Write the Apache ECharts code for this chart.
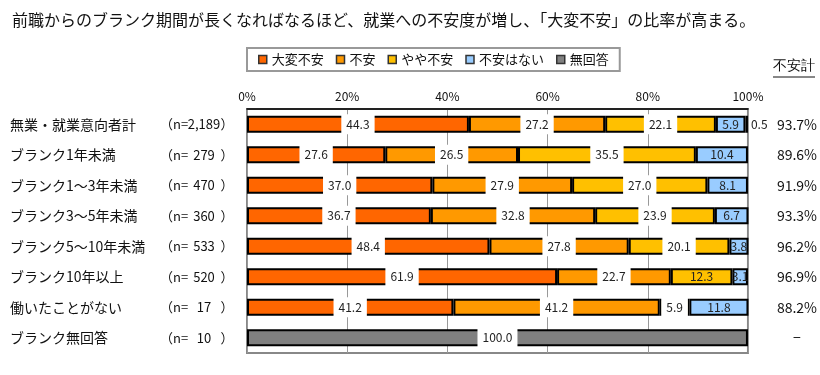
<!DOCTYPE html>
<html>
<head>
<meta charset="utf-8">
<script src="https://cdn.jsdelivr.net/npm/echarts@6/dist/echarts.min.js"></script>
<style>
  html, body { margin: 0; padding: 0; background: #fff; }
  #chart { width: 820px; height: 375px; }
</style>
</head>
<body>
<div id="chart"></div>
<script>
var categories = ['無業・就業意向者計', 'ブランク1年未満', 'ブランク1～3年未満', 'ブランク3～5年未満', 'ブランク5～10年未満', 'ブランク10年以上', '働いたことがない', 'ブランク無回答']
var nCounts = ['2,189', '279', '470', '360', '533', '520', '17', '10']
var totals = ['93.7%', '89.6%', '91.9%', '93.3%', '96.2%', '96.9%', '88.2%', '−']
var seriesNames = ['大変不安', '不安', 'やや不安', '不安はない', '無回答']
var taihenFuan = [44.3, 27.6, 37.0, 36.7, 48.4, 61.9, 41.2, 0]
var fuan = [27.2, 26.5, 27.9, 32.8, 27.8, 22.7, 41.2, 0]
var yayaFuan = [22.1, 35.5, 27.0, 23.9, 20.1, 12.3, 5.9, 0]
var fuanNashi = [5.9, 10.4, 8.1, 6.7, 3.8, 3.1, 11.8, 0]
var muKaito = [0.5, 0, 0, 0, 0, 0, 0, 100.0]
var xTicks = [0, 20, 40, 60, 80, 100]

var colors = ['#ff6600', '#ff9900', '#ffc000', '#99ccff', '#808080']
var FONT = '"Noto Sans CJK JP", "Noto Sans", sans-serif'
// ラベルの白背景を付けない系列 / 個別の点
var plainSeries = [3]
var plainItems = [[2, 5]]

var allValues = [taihenFuan, fuan, yayaFuan, fuanNashi, muKaito]

const buildSeries = () => {
  return allValues.map((arr, si) => {
    let data = arr.map((v, i) => {
      if (!v) return '-'
      let item = { value: v }
      let plain = plainSeries.indexOf(si) >= 0 || plainItems.some(p => p[0] === si && p[1] === i)
      if (v < 2) {
        item.label = { position: 'right', distance: 3, backgroundColor: 'transparent', padding: 0 }
      } else if (plain) {
        item.label = { backgroundColor: 'transparent' }
      }
      return item
    })
    return {
      name: seriesNames[si],
      type: 'bar',
      stack: 'total',
      barWidth: 17,
      data: data,
      itemStyle: { color: colors[si], borderColor: '#000', borderWidth: 2 },
      label: {
        show: true,
        position: 'inside',
        formatter: p => p.value.toFixed(1),
        color: '#222',
        fontSize: 12,
        fontFamily: FONT,
        backgroundColor: '#fff',
        padding: [4, 5]
      }
    }
  })
}

var chart = echarts.init(document.getElementById('chart'))
chart.setOption({
  animation: false,
  color: colors,
  textStyle: { fontFamily: FONT },
  title: {
    text: '前職からのブランク期間が長くなればなるほど、就業への不安度が増し、「大変不安」の比率が高まる。',
    left: 7,
    top: 7,
    textStyle: { fontSize: 16, fontWeight: 'normal', color: '#111', fontFamily: FONT }
  },
  legend: {
    data: seriesNames,
    left: 247,
    top: 48,
    padding: [5, 11],
    borderColor: '#999',
    borderWidth: 2,
    itemGap: 12,
    itemWidth: 8,
    itemHeight: 8,
    icon: 'rect',
    itemStyle: { borderColor: '#333', borderWidth: 1.5 },
    textStyle: { fontSize: 13, color: '#111', fontFamily: FONT }
  },
  graphic: [
    { type: 'text', left: 773, top: 59, style: { text: '不安計', fontSize: 14, fill: '#111', font: '14px ' + FONT } },
    { type: 'line', shape: { x1: 773, y1: 77, x2: 815, y2: 77 }, style: { stroke: '#111', lineWidth: 1 } }
  ],
  grid: {
    left: 247,
    right: 70,
    top: 109,
    bottom: 22,
    show: true,
    borderColor: '#888',
    borderWidth: 2
  },
  xAxis: {
    type: 'value',
    min: xTicks[0],
    max: xTicks[xTicks.length - 1],
    interval: 20,
    position: 'top',
    axisLine: { show: true, lineStyle: { color: '#000', width: 1.5 } },
    axisTick: { show: false },
    axisLabel: { formatter: '{value}%', fontSize: 12, color: '#111', margin: 7, fontFamily: FONT },
    splitLine: { show: true, lineStyle: { color: '#999', width: 1 } }
  },
  yAxis: [
    {
      type: 'category',
      data: categories,
      inverse: true,
      axisLine: { show: false },
      axisTick: { show: false },
      axisLabel: {
        margin: 14,
        formatter: (v, i) => '{a|' + v + '}{p|（n=}{v|' + nCounts[i] + '}{q|）}',
        rich: {
          a: { width: 150, align: 'left', fontSize: 14, color: '#111', fontFamily: FONT },
          p: { width: 27, align: 'left', fontSize: 13, color: '#111', fontFamily: FONT },
          v: { width: 34, align: 'right', fontSize: 13, color: '#111', fontFamily: FONT },
          q: { width: 12, align: 'left', fontSize: 13, color: '#111', fontFamily: FONT }
        }
      }
    },
    {
      type: 'category',
      data: totals,
      inverse: true,
      position: 'right',
      axisLine: { show: false },
      axisTick: { show: false },
      axisLabel: { align: 'center', margin: 49, fontSize: 14, color: '#111', fontFamily: FONT }
    }
  ],
  series: buildSeries()
})
</script>
</body>
</html>
